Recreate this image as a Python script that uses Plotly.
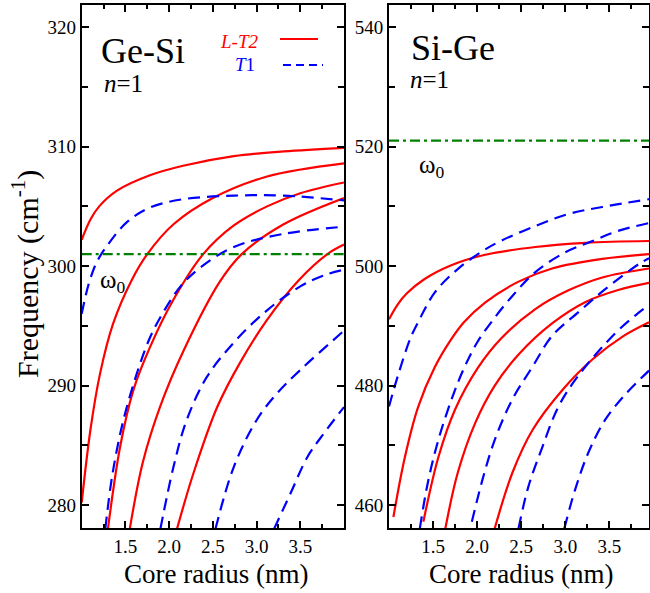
import plotly.graph_objects as go

FONT = "Liberation Serif, Times New Roman, serif"

# ---------------- Ge-Si panel (left) ----------------
gs_r1_x = [1.0, 1.1, 1.2, 1.4, 1.78, 2.16, 2.74, 3.31, 4.0]
gs_r1_y = [302.2, 303.9, 305.0, 306.3, 307.6, 308.4, 309.2, 309.6, 309.9]
gs_r2_x = [1.0, 1.1, 1.21, 1.36, 1.57, 1.75, 2.05, 2.5, 3.12, 4.0]
gs_r2_y = [280.2, 286.3, 291.0, 295.2, 298.8, 301.0, 303.5, 305.7, 307.5, 308.6]
gs_r3_x = [1.30, 1.44, 1.59, 1.78, 2.05, 2.39, 2.74, 3.12, 3.5, 4.0]
gs_r3_y = [278.0, 284.9, 289.6, 293.2, 297.2, 301.0, 303.4, 305.0, 306.1, 307.0]
gs_r4_x = [1.55, 1.7, 1.9, 2.17, 2.58, 2.83, 3.31, 4.0]
gs_r4_y = [278.0, 283.6, 288.3, 293.0, 298.7, 301.0, 303.5, 305.7]
gs_r5_x = [2.09, 2.28, 2.55, 2.81, 3.12, 3.48, 3.81, 4.0]
gs_r5_y = [278.0, 282.7, 288.2, 291.9, 295.5, 298.8, 301.0, 301.8]

gs_b1_x = [1.0, 1.08, 1.17, 1.29, 1.52, 1.78, 2.16, 2.74, 3.31, 4.0]
gs_b1_y = [296.0, 298.5, 300.3, 301.7, 303.7, 304.9, 305.6, 305.9, 305.9, 305.5]
gs_b2_x = [1.27, 1.35, 1.47, 1.63, 1.78, 1.93, 2.13, 2.36, 2.74, 3.31, 4.0]
gs_b2_y = [278.0, 282.5, 286.9, 291.0, 294.0, 296.1, 298.3, 299.9, 301.6, 302.7, 303.3]
gs_b3_x = [1.9, 2.05, 2.2, 2.43, 2.74, 3.12, 3.5, 3.76, 4.0]
gs_b3_y = [278.0, 283.2, 287.1, 290.7, 293.6, 296.3, 298.3, 299.2, 299.7]
gs_b4_x = [2.53, 2.74, 3.0, 3.24, 3.5, 4.0]
gs_b4_y = [278.0, 283.2, 287.1, 289.4, 291.3, 294.6]
gs_b5_x = [3.2, 3.39, 3.58, 3.77, 4.0]
gs_b5_y = [278.0, 281.0, 284.0, 286.0, 288.2]

gs_omega0 = 301.0

# ---------------- Si-Ge panel (right) ----------------
sg_r1_x = [1.0, 1.1, 1.2, 1.4, 1.7, 2.09, 2.66, 3.23, 3.95]
sg_r1_y = [491.1, 493.6, 495.4, 497.8, 500.1, 501.9, 503.2, 503.9, 504.2]
sg_r2_x = [1.05, 1.18, 1.33, 1.52, 1.69, 1.85, 2.09, 2.47, 2.85, 3.42, 3.95]
sg_r2_y = [458.0, 468.0, 476.4, 483.1, 487.4, 490.6, 493.9, 497.4, 499.6, 501.2, 502.0]
sg_r3_x = [1.39, 1.56, 1.75, 2.01, 2.28, 2.66, 3.03, 3.42, 3.95]
sg_r3_y = [457.2, 468.0, 476.0, 483.0, 488.0, 492.8, 495.9, 498.1, 499.6]
sg_r4_x = [1.64, 1.78, 1.98, 2.2, 2.47, 2.85, 3.23, 3.6, 3.95]
sg_r4_y = [456.1, 465.4, 473.8, 480.0, 485.2, 490.4, 494.0, 496.0, 497.2]
sg_r5_x = [2.2, 2.4, 2.63, 2.97, 3.31, 3.65, 3.95]
sg_r5_y = [456.1, 465.4, 472.6, 479.3, 484.4, 488.2, 490.6]

sg_b1_x = [1.0, 1.1, 1.24, 1.33, 1.52, 1.78, 2.06, 2.28, 2.66, 3.03, 3.42, 3.95]
sg_b1_y = [476.5, 481.6, 487.8, 490.6, 495.6, 499.5, 502.5, 504.3, 506.7, 508.7, 509.9, 511.2]
sg_b2_x = [1.35, 1.44, 1.56, 1.72, 1.86, 2.0, 2.17, 2.4, 2.66, 3.0, 3.31, 3.6, 3.95]
sg_b2_y = [456.1, 463.7, 470.9, 478.1, 483.2, 487.2, 490.8, 495.0, 499.0, 502.3, 504.2, 505.9, 507.2]
sg_b3_x = [1.94, 2.06, 2.2, 2.4, 2.63, 2.85, 3.15, 3.45, 3.83, 3.95]
sg_b3_y = [457.2, 464.2, 470.9, 477.7, 483.2, 488.3, 492.3, 496.1, 500.3, 501.3]
sg_b4_x = [2.47, 2.58, 2.74, 2.92, 3.15, 3.57, 3.8, 3.95]
sg_b4_y = [456.1, 463.0, 469.7, 476.4, 481.7, 488.8, 491.8, 493.5]
sg_b5_x = [2.99, 3.11, 3.26, 3.45, 3.68, 3.95]
sg_b5_y = [456.1, 462.5, 468.7, 474.2, 478.5, 482.5]

sg_omega0 = 521.0

# ---------------- axes / ticks ----------------
gs_xrange = [1.0, 4.0]
sg_xrange = [1.0, 3.95]
gs_yrange = [278.05, 321.9]
sg_yrange = [456.1, 543.8]
x_tickvals = [1.5, 2.0, 2.5, 3.0, 3.5]
x_ticktext = ["1.5", "2.0", "2.5", "3.0", "3.5"]
gs_ytickvals = [280, 290, 300, 310, 320]
sg_ytickvals = [460, 480, 500, 520, 540]

RED = "#FF0000"
BLUE = "#0000FF"
GREEN = "#008000"

fig = go.Figure()

def curve(xs, ys, color, dash, xa, ya):
    fig.add_trace(go.Scatter(
        x=xs, y=ys, mode="lines", xaxis=xa, yaxis=ya,
        line=dict(color=color, width=2.2, dash=dash, shape="spline", smoothing=1.0),
        showlegend=False, hoverinfo="skip"))

for xs, ys in [(gs_r1_x, gs_r1_y), (gs_r2_x, gs_r2_y), (gs_r3_x, gs_r3_y),
               (gs_r4_x, gs_r4_y), (gs_r5_x, gs_r5_y)]:
    curve(xs, ys, RED, "solid", "x", "y")
for xs, ys in [(gs_b1_x, gs_b1_y), (gs_b2_x, gs_b2_y), (gs_b3_x, gs_b3_y),
               (gs_b4_x, gs_b4_y), (gs_b5_x, gs_b5_y)]:
    curve(xs, ys, BLUE, "12px,7px", "x", "y")
curve(gs_xrange, [gs_omega0, gs_omega0], GREEN, "10px,4px,3px,4px", "x", "y")

for xs, ys in [(sg_r1_x, sg_r1_y), (sg_r2_x, sg_r2_y), (sg_r3_x, sg_r3_y),
               (sg_r4_x, sg_r4_y), (sg_r5_x, sg_r5_y)]:
    curve(xs, ys, RED, "solid", "x2", "y2")
for xs, ys in [(sg_b1_x, sg_b1_y), (sg_b2_x, sg_b2_y), (sg_b3_x, sg_b3_y),
               (sg_b4_x, sg_b4_y), (sg_b5_x, sg_b5_y)]:
    curve(xs, ys, BLUE, "12px,7px", "x2", "y2")
curve(sg_xrange, [sg_omega0, sg_omega0], GREEN, "10px,4px,3px,4px", "x2", "y2")

W, H = 650, 593
def px(x):
    return x / W
def py(y):
    return 1 - y / H

common = dict(showline=True, linecolor="black", linewidth=2, mirror="ticks",
              ticks="inside", ticklen=7, tickwidth=2, tickcolor="black",
              showgrid=False, zeroline=False,
              tickfont=dict(family=FONT, size=19, color="black"))

ydom = [py(528.3), py(4.5)]
fig.update_layout(
    width=W, height=H,
    margin=dict(l=0, r=0, t=0, b=0),
    paper_bgcolor="white", plot_bgcolor="white",
    xaxis=dict(common, domain=[px(81.7), px(344)], range=gs_xrange, anchor="y",
               tickvals=x_tickvals, ticktext=x_ticktext,
               minor=dict(ticks="inside", ticklen=4, tickwidth=2, tickcolor="black",
                          dtick=0.25, tick0=1.0, showgrid=False)),
    yaxis=dict(common, domain=ydom, range=gs_yrange, anchor="x",
               tickvals=gs_ytickvals,
               minor=dict(ticks="inside", ticklen=6, tickwidth=2, tickcolor="black",
                          dtick=5, tick0=280, showgrid=False)),
    xaxis2=dict(common, domain=[px(389), px(649)], range=sg_xrange, anchor="y2",
                tickvals=x_tickvals, ticktext=x_ticktext,
                minor=dict(ticks="inside", ticklen=4, tickwidth=2, tickcolor="black",
                           dtick=0.25, tick0=1.0, showgrid=False)),
    yaxis2=dict(common, domain=ydom, range=sg_yrange, anchor="x2",
                tickvals=sg_ytickvals,
                minor=dict(ticks="inside", ticklen=6, tickwidth=2, tickcolor="black",
                           dtick=10, tick0=460, showgrid=False)),
)

def note(text, x, y, size, color="black", xanchor="left", yanchor="middle", angle=0):
    fig.add_annotation(text=text, x=px(x), y=py(y), xref="paper", yref="paper",
                       showarrow=False, xanchor=xanchor, yanchor=yanchor,
                       textangle=angle,
                       font=dict(family=FONT, size=size, color=color))

# panel labels
note("Ge-Si", 99, 51, 36)
note("<i>n</i>=1", 102, 84, 25)
note("Si-Ge", 409, 48, 36)
note("<i>n</i>=1", 408, 80, 25)
note("ω<sub>0</sub>", 98, 281, 25)
note("ω<sub>0</sub>", 417, 167, 25)

# legend
note("<i>L-T2</i>", 260, 41, 19, RED, xanchor="right")
note("<i>T</i>1", 257, 64, 19, BLUE, xanchor="right")
fig.add_shape(type="line", xref="paper", yref="paper",
              x0=px(280), x1=px(318), y0=py(39), y1=py(39),
              line=dict(color=RED, width=2.2))
fig.add_shape(type="line", xref="paper", yref="paper",
              x0=px(283), x1=px(323), y0=py(65), y1=py(65),
              line=dict(color=BLUE, width=2.2, dash="8px,5px"))

# axis titles
note("Core radius (nm)", 216, 574, 27, xanchor="center")
note("Core radius (nm)", 521, 574, 27, xanchor="center")
note("Frequency (cm<sup>-1</sup>)", 25, 274, 30, xanchor="center", angle=-90)

fig.write_html("out.html")
